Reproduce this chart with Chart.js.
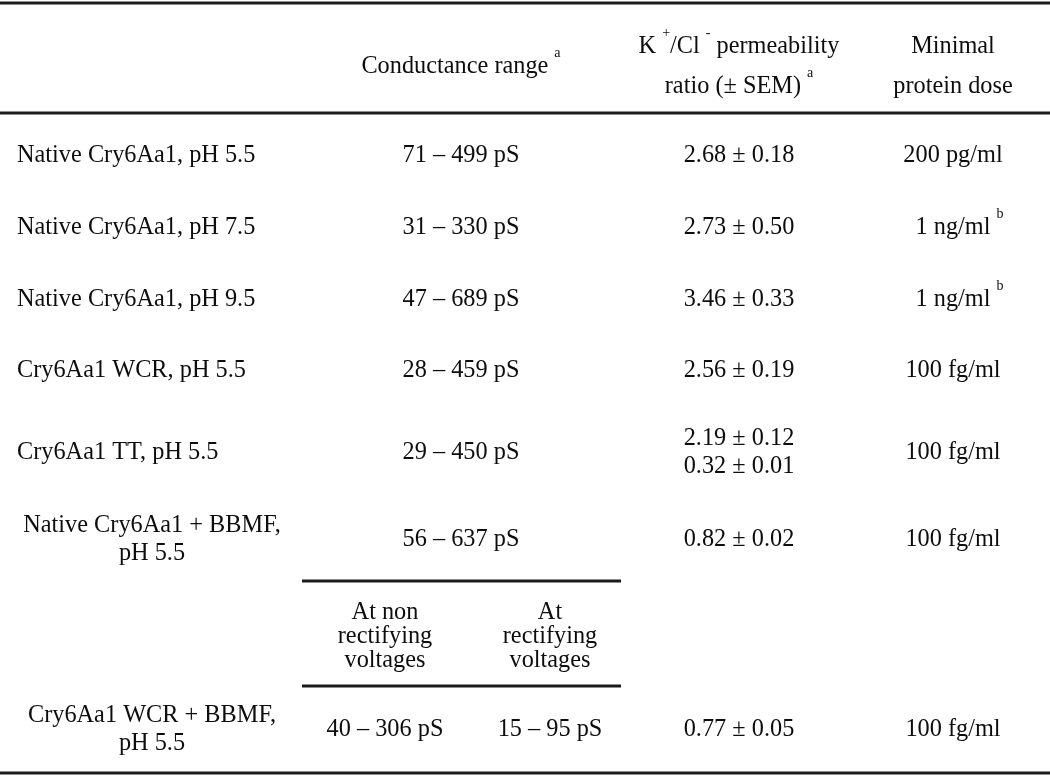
<!DOCTYPE html>
<html>
<head>
<meta charset="utf-8">
<script src="https://cdn.jsdelivr.net/npm/chart.js@4"></script>
<style>
  html, body { margin: 0; padding: 0; background: #fff; }
  #tableChart { display: block; }
</style>
</head>
<body>
<canvas id="tableChart" width="1050" height="777"></canvas>
<script>
// Table content
const rowNames = [
    ["Native Cry6Aa1, pH 5.5"],
    ["Native Cry6Aa1, pH 7.5"],
    ["Native Cry6Aa1, pH 9.5"],
    ["Cry6Aa1 WCR, pH 5.5"],
    ["Cry6Aa1 TT, pH 5.5"],
    ["Native Cry6Aa1 + BBMF,", "pH 5.5"],
    ["Cry6Aa1 WCR + BBMF,", "pH 5.5"]
];
const conductance = ["71 – 499 pS", "31 – 330 pS", "47 – 689 pS", "28 – 459 pS", "29 – 450 pS", "56 – 637 pS", ""];
const condNonRect = ["", "", "", "", "", "", "40 – 306 pS"];
const condRect = ["", "", "", "", "", "", "15 – 95 pS"];
const permeability = [
    ["2.68 ± 0.18"], ["2.73 ± 0.50"], ["3.46 ± 0.33"], ["2.56 ± 0.19"],
    ["2.19 ± 0.12", "0.32 ± 0.01"], ["0.82 ± 0.02"], ["0.77 ± 0.05"]
];
const minDose = ["200 pg/ml", "1 ng/ml", "1 ng/ml", "100 fg/ml", "100 fg/ml", "100 fg/ml", "100 fg/ml"];
const doseNote = ["", "b", "b", "", "", "", ""];

const headCond = [["Conductance range", false], ["a", true]];
const headPerm = [
    [["K", false], ["+", true], ["/Cl", false], ["-", true], [" permeability", false]],
    [["ratio (± SEM)", false], ["a", true]]
];
const headDose = ["Minimal", "protein dose"];
const subHeads = [["At non", "rectifying", "voltages"], ["At", "rectifying", "voltages"]];

// Layout (pixel units of the x / y scales)
const colX = { label: 17, labelMid: 152, cond: 461, nonRect: 385, rect: 550, perm: 739, dose: 953 };
const rowY = [155, 227, 299, 370, 452, 539, 729];
const centeredRows = [5, 6];
const headY = { cond: 66, line1: 46, line2: 86 };
const subY = [612, 636, 660];
const lineGap = 28;
const rules = [
    { x0: 0, x1: 1050, y: 3 },
    { x0: 0, x1: 1050, y: 113 },
    { x0: 302, x1: 621, y: 581 },
    { x0: 302, x1: 621, y: 686 },
    { x0: 0, x1: 1050, y: 773 }
];

// glyphs in the source are a bit taller than they are wide
const SX = 0.935;
const BASE_FONT = "26px 'Liberation Serif', 'Times New Roman', serif";
const SUP_FONT = "15px 'Liberation Serif', 'Times New Roman', serif";
const INK = "#0d0d0d";

function drawRich(ctx, segs, px, py, align, centerOnBase) {
    const gaps = segs.map(([t, s]) => s ? 6 : 0);
    const widths = segs.map(([t, s], i) => {
        ctx.font = s ? SUP_FONT : BASE_FONT;
        return ctx.measureText(t).width * SX + gaps[i];
    });
    let total = 0;
    widths.forEach((w, i) => { if (!centerOnBase || !segs[i][1]) total += w; });
    let cx = align === "center" ? px - total / 2 : px;
    segs.forEach(([t, s], i) => {
        ctx.font = s ? SUP_FONT : BASE_FONT;
        ctx.save();
        ctx.translate(cx + gaps[i], s ? py - 13 : py);
        ctx.scale(SX, 1);
        ctx.fillText(t, 0, 0);
        ctx.restore();
        cx += widths[i];
    });
}

function drawLines(ctx, lines, px, py, align) {
    const top = py - (lines.length - 1) * lineGap / 2;
    lines.forEach((t, i) => drawRich(ctx, [[t, false]], px, top + i * lineGap, align, true));
}

const tableText = {
    id: "tableText",
    afterDatasetsDraw(chart) {
        const { ctx, scales: { x, y } } = chart;
        ctx.save();
        ctx.fillStyle = INK;
        ctx.textBaseline = "middle";
        ctx.textAlign = "left";

        // header
        drawRich(ctx, headCond, x.getPixelForValue(colX.cond), y.getPixelForValue(headY.cond), "center", false);
        drawRich(ctx, headPerm[0], x.getPixelForValue(colX.perm), y.getPixelForValue(headY.line1), "center", false);
        drawRich(ctx, headPerm[1], x.getPixelForValue(colX.perm), y.getPixelForValue(headY.line2), "center", false);
        drawRich(ctx, [[headDose[0], false]], x.getPixelForValue(colX.dose), y.getPixelForValue(headY.line1), "center", true);
        drawRich(ctx, [[headDose[1], false]], x.getPixelForValue(colX.dose), y.getPixelForValue(headY.line2), "center", true);

        // sub-header for the split conductance column
        subHeads.forEach((lines, c) => {
            const px = x.getPixelForValue(c === 0 ? colX.nonRect : colX.rect);
            lines.forEach((t, i) => drawRich(ctx, [[t, false]], px, y.getPixelForValue(subY[i]), "center", true));
        });

        // body rows
        rowNames.forEach((name, r) => {
            const py = y.getPixelForValue(rowY[r]);
            if (centeredRows.includes(r)) {
                drawLines(ctx, name, x.getPixelForValue(colX.labelMid), py, "center");
            } else {
                drawLines(ctx, name, x.getPixelForValue(colX.label), py, "left");
            }
            if (conductance[r]) drawRich(ctx, [[conductance[r], false]], x.getPixelForValue(colX.cond), py, "center", true);
            if (condNonRect[r]) drawRich(ctx, [[condNonRect[r], false]], x.getPixelForValue(colX.nonRect), py, "center", true);
            if (condRect[r]) drawRich(ctx, [[condRect[r], false]], x.getPixelForValue(colX.rect), py, "center", true);
            drawLines(ctx, permeability[r], x.getPixelForValue(colX.perm), py, "center");
            const dose = [[minDose[r], false]];
            if (doseNote[r]) dose.push([doseNote[r], true]);
            drawRich(ctx, dose, x.getPixelForValue(colX.dose), py, "center", true);
        });
        ctx.restore();
    }
};

document.addEventListener("DOMContentLoaded", function() {
    const ctx = document.getElementById("tableChart").getContext("2d");
    new Chart(ctx, {
        type: "line",
        data: {
            datasets: rules.map(rule => ({
                data: [{ x: rule.x0, y: rule.y }, { x: rule.x1, y: rule.y }],
                borderColor: "#1a1a1a",
                borderWidth: 3,
                pointRadius: 0,
                fill: false
            }))
        },
        options: {
            responsive: false,
            animation: false,
            events: [],
            layout: { padding: 0 },
            plugins: { legend: { display: false }, tooltip: { enabled: false } },
            scales: {
                x: { type: "linear", min: 0, max: 1050, display: false },
                y: { type: "linear", min: 0, max: 777, reverse: true, display: false }
            }
        },
        plugins: [tableText]
    });
});
</script>
</body>
</html>
